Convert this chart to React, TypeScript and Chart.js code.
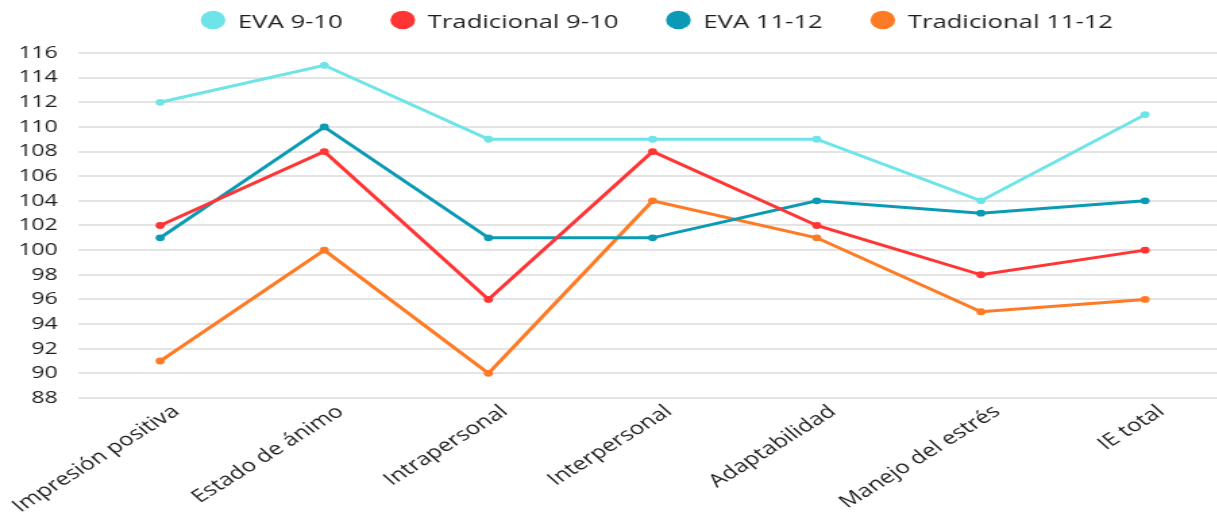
import React, { useEffect, useRef } from "react";
import { Chart, registerables } from "chart.js";

Chart.register(...registerables);

const categories = [
  "Impresión positiva",
  "Estado de ánimo",
  "Intrapersonal",
  "Interpersonal",
  "Adaptabilidad",
  "Manejo del estrés",
  "IE total",
];
const eva910 = [112, 115, 109, 109, 109, 104, 111];
const trad910 = [102, 108, 96, 108, 102, 98, 100];
const eva1112 = [101, 110, 101, 101, 104, 103, 104];
const trad1112 = [91, 100, 90, 104, 101, 95, 96];

const seriesNames = ["EVA 9-10", "Tradicional 9-10", "EVA 11-12", "Tradicional 11-12"];
const seriesColors = ["#6ee4e8", "#ff3434", "#0b9ab5", "#ff7a24"];

const OUTER_W = 1217;
const SCALE = 1.35;
const INNER_W = 909;
const H = 525;
const FONT = "'Open Sans', 'Noto Sans', sans-serif";
const TEXT = "#1e1e1e";

const legendPlugin = {
  id: "customLegend",
  afterDraw(chart: any) {
    const ctx = chart.ctx as CanvasRenderingContext2D;
    const ca = chart.chartArea;
    const ds = chart.data.datasets;
    ctx.save();
    ctx.font = `19px ${FONT}`;
    const widths = ds.map((d: any) => ctx.measureText(d.label).width);
    const R = 9.2;
    const textOff = 18.5;
    const gap = 44.5;
    let x = ca.left + 100;
    const cy = 20;
    ds.forEach((d: any, i: number) => {
      ctx.fillStyle = d.backgroundColor;
      ctx.beginPath();
      ctx.arc(x, cy, R, 0, Math.PI * 2);
      ctx.fill();
      ctx.fillStyle = TEXT;
      ctx.textAlign = "left";
      ctx.textBaseline = "alphabetic";
      ctx.fillText(d.label, x + textOff, 27.5);
      x += textOff + widths[i] + gap;
    });
    ctx.restore();
  },
};

export default function App() {
  const ref = useRef<HTMLCanvasElement>(null);
  useEffect(() => {
    document.body.style.margin = "0";
    const values = [eva910, trad910, eva1112, trad1112];
    const chart = new Chart(ref.current!, {
      type: "line",
      data: {
        labels: categories,
        datasets: values.map((v, i) => ({
          label: seriesNames[i],
          data: v,
          borderColor: seriesColors[i],
          backgroundColor: seriesColors[i],
          borderWidth: 3,
          pointRadius: 3.4,
          pointHoverRadius: 3.4,
          pointBorderWidth: 0,
          tension: 0,
        })),
      },
      plugins: [legendPlugin],
      options: {
        animation: false,
        responsive: true,
        maintainAspectRatio: false,
        layout: { autoPadding: false, padding: { top: 53, right: 0, left: 0, bottom: 5 } },
        plugins: {
          tooltip: { enabled: false },
          legend: { display: false },
        },
        scales: {
          x: {
            offset: true,
            afterFit: (s: any) => {
              s.paddingLeft = 0;
              s.paddingRight = 0;
            },
            grid: { display: false, drawTicks: false },
            border: { display: false },
            ticks: {
              color: TEXT,
              font: { family: FONT, size: 18 },
              minRotation: 40,
              maxRotation: 40,
              padding: 3,
              labelOffset: 12,
            },
          },
          y: {
            min: 88,
            max: 116,
            afterFit: (s: any) => {
              s.width = 57.8;
            },
            grid: { color: "#e4e4e4", lineWidth: 2, drawTicks: false },
            border: { display: false },
            ticks: {
              stepSize: 2,
              color: TEXT,
              padding: 15,
              font: { family: FONT, size: 17 },
            },
          },
        },
      },
    });
    return () => chart.destroy();
  }, []);
  return (
    <div style={{ width: OUTER_W, height: H, overflow: "hidden", background: "#fff" }}>
      <div
        style={{
          width: INNER_W,
          height: H,
          transform: `scaleX(${SCALE})`,
          transformOrigin: "0 0",
        }}
      >
        <canvas ref={ref} />
      </div>
    </div>
  );
}
